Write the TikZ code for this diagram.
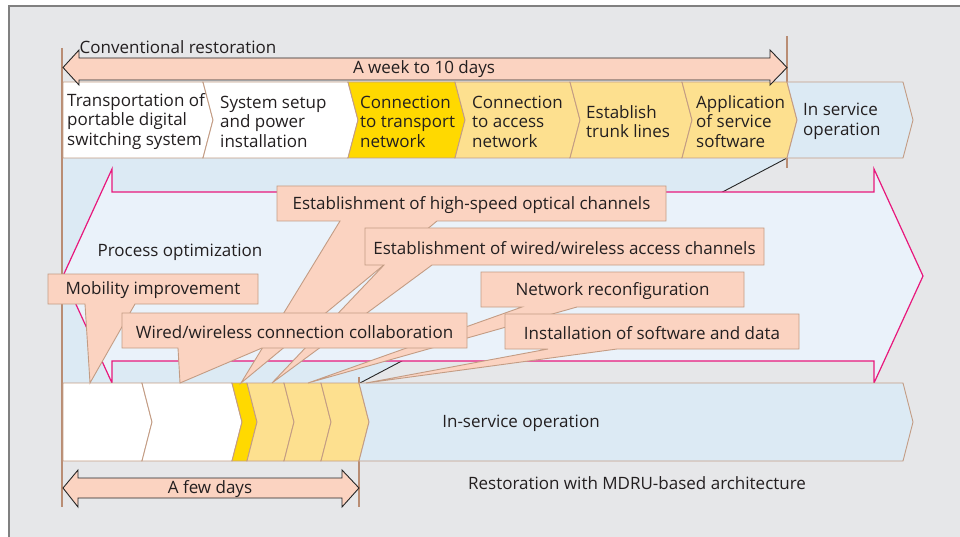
\documentclass[tikz,border=0pt]{standalone}
\usepackage{fontspec}
\setmainfont{Open Sans}
\definecolor{bgc}{HTML}{E6E7E9}
\definecolor{framec}{HTML}{808080}
\definecolor{brownl}{HTML}{B98D74}
\definecolor{chevl}{HTML}{C39C84}
\definecolor{yel}{HTML}{FFD900}
\definecolor{lyel}{HTML}{FDE08F}
\definecolor{lblue}{HTML}{DCEAF4}
\definecolor{afill}{HTML}{EAF2FA}
\definecolor{pinkl}{HTML}{E8187C}
\definecolor{salm}{HTML}{FBD3C1}
\definecolor{txt}{HTML}{231F20}
\tikzset{
  chevline/.style={draw=chevl, line width=0.9pt},
  callout/.style={draw=chevl, fill=salm, line width=0.9pt, line join=miter},
  vline/.style={draw=brownl, line width=2pt},
  dblarrow/.style={draw=black!85, fill=salm, line width=0.9pt},
  lbl/.style={text=txt, inner sep=0pt, yshift=-1.5pt},
  lbll/.style={text=txt, inner sep=0pt, anchor=west, align=left, yshift=-1.5pt},
}
\newcommand{\chev}[7]{\filldraw[chevline, fill=#1] (#2,#4) -- (#3,#4) -- ([xshift=10pt]#3,#5) -- (#3,#6) -- (#2,#6) -- ([xshift=#7pt]#2,#5) -- cycle;}
\begin{document}
\begin{tikzpicture}[x=1pt,y=-1pt, font=\fontsize{17}{19.5}\selectfont]
\useasboundingbox (0,0) rectangle (960,537);
\fill[white] (0,0) rectangle (960,537);
\fill[bgc] (9,6) rectangle (960,537);
\draw[framec, line width=2pt] (9,537) -- (9,6) -- (960,6);

% zoom trapezoid
\fill[lblue] (63,158) -- (787,158) -- (360,383) -- (63,383) -- cycle;
\coordinate (tz1) at (787,158);
\coordinate (tz2) at (360,383);
\draw[black!85, line width=0.9pt] (tz1) -- (tz2);

% vertical brown lines
\draw[vline] (62,48) -- (62,507);
\draw[vline] (787,36) -- (787,168);
\draw[vline] (359,377) -- (359,507);

% big process-optimization arrow
\draw[pinkl, fill=afill, line width=1.2pt, line join=miter] (112,192) -- (112,169) -- (63,276) -- (112,383) -- (112,361) -- (874,361) -- (874,383) -- (923,276) -- (874,169) -- (874,192) -- cycle;
\node[lbl] (po) at (180,251) {Process optimization};

% top chevrons
\chev{white}{63}{203}{82}{120}{158}{0}
\chev{white}{203}{348}{82}{120}{158}{10}
\chev{yel}{348}{455}{82}{120}{158}{10}
\chev{lyel}{455}{570}{82}{120}{158}{10}
\chev{lyel}{570}{682}{82}{120}{158}{10}
\chev{lyel}{682}{787}{82}{120}{158}{10}
\chev{lblue}{787}{903}{82}{120}{158}{10}

% bottom chevrons
\chev{white}{63}{142}{383}{422}{461}{0}
\chev{white}{142}{232}{383}{422}{461}{10}
\chev{yel}{232}{247}{383}{422}{461}{10}
\chev{lyel}{247}{284}{383}{422}{461}{10}
\chev{lyel}{284}{321}{383}{422}{461}{10}
\chev{lyel}{321}{359}{383}{422}{461}{10}
\chev{lblue}{359}{903}{383}{422}{461}{10}

% callouts
\filldraw[callout] (277,186) -- (666,186) -- (666,221) -- (437,221) -- (241,383) -- (340,221) -- (277,221) -- cycle;
\node[lbl] (c1) at (471.5,203.5) {Establishment of high-speed optical channels};
\filldraw[callout] (365,228) -- (764,228) -- (764,265) -- (432,265) -- (272,383) -- (384,265) -- (365,265) -- cycle;
\node[lbl] (c2) at (564.5,246.5) {Establishment of wired/wireless access channels};
\filldraw[callout] (481,272) -- (744,272) -- (744,307) -- (577,307) -- (308,383) -- (522,307) -- (481,307) -- cycle;
\node[lbl] (c3) at (612.5,289.5) {Network reconfiguration};
\filldraw[callout] (505,314) -- (799,314) -- (799,349) -- (617,349) -- (366,383) -- (548,349) -- (505,349) -- cycle;
\node[lbl] (c4) at (652,331.5) {Installation of software and data};
\filldraw[callout] (48,274) -- (258,274) -- (258,304) -- (135,304) -- (90,383) -- (85,304) -- (48,304) -- cycle;
\node[lbl] (c5) at (153,289) {Mobility improvement};
\filldraw[callout] (122,313) -- (467,313) -- (467,348) -- (262,348) -- (180,383) -- (178,348) -- (122,348) -- cycle;
\node[lbl] (c6) at (294.5,330.5) {Wired/wireless connection collaboration};

% double arrows
\filldraw[dblarrow, line join=miter] (63,67.5) -- (79,50) -- (79,58) -- (770,58) -- (770,50) -- (787,67.5) -- (770,85) -- (770,80) -- (79,80) -- (79,85) -- cycle;
\node[lbl] (wk) at (424,67.5) {A week to 10 days};
\filldraw[dblarrow, line join=miter] (63,488) -- (78,470) -- (78,478) -- (342,478) -- (342,470) -- (359,488) -- (342,507) -- (342,498) -- (78,498) -- (78,507) -- cycle;
\node[lbl] (fd) at (210,488) {A few days};

% labels
\node[lbl] (conv) at (178,46) {Conventional restoration};
\node[lbl] (mdru) at (637,482) {Restoration with MDRU-based architecture};
\node[lbl] (isop) at (521,422) {In-service operation};

\node[lbll] (t1) at (67,120) {Transportation of\\portable digital\\switching system};
\node[lbll] (t2) at (220,120) {System setup\\and power\\installation};
\node[lbll] (t3) at (360,120) {Connection\\to transport\\network};
\node[lbll] (t4) at (472,120) {Connection\\to access\\network};
\node[lbll] (t5) at (586,120) {Establish\\trunk lines};
\node[lbll] (t6) at (696,120) {Application\\of service\\software};
\node[lbll] (t7) at (803,120) {In service\\operation};
\end{tikzpicture}
\end{document}
